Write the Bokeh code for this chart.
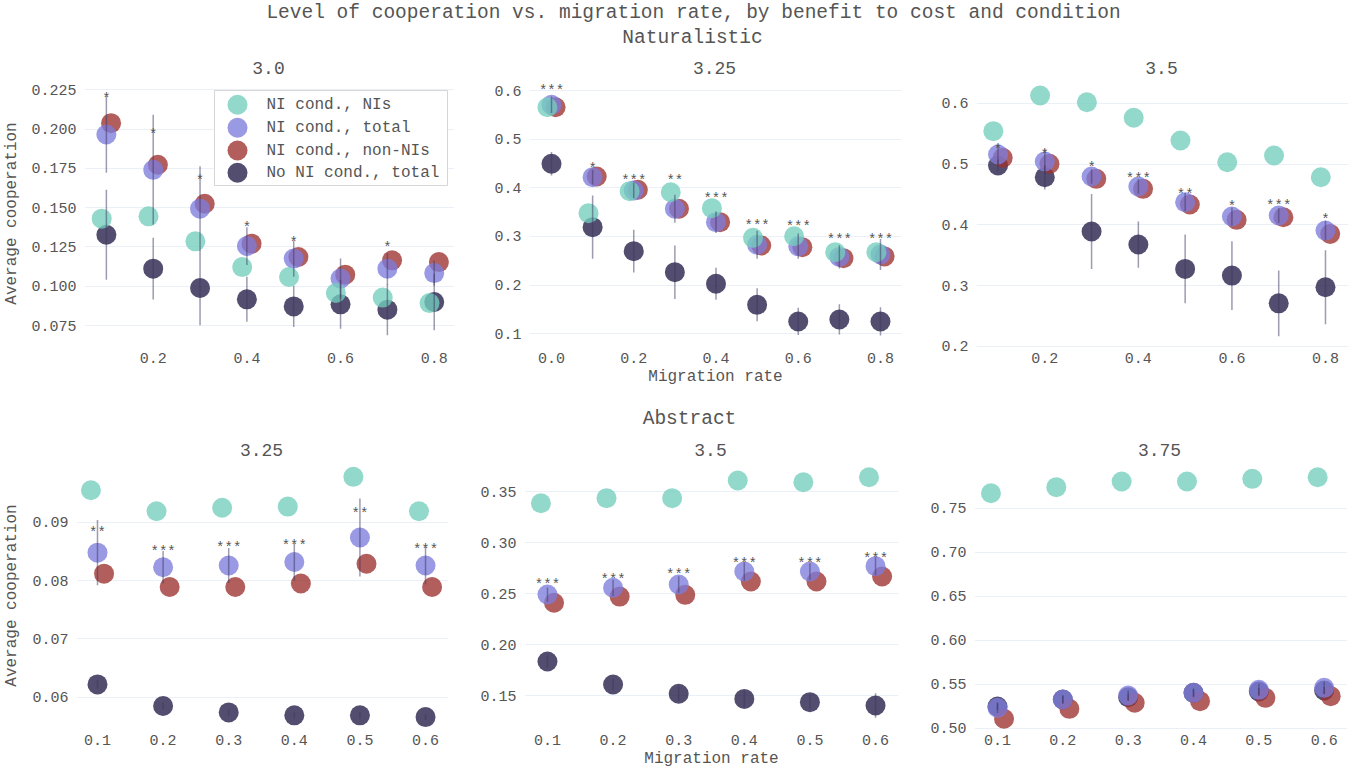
from bokeh.plotting import figure
from bokeh.layouts import column, row
from bokeh.models import Range1d, FixedTicker, PrintfTickFormatter, Label
from bokeh.embed import file_html
from bokeh.resources import INLINE
from bokeh.core.properties import value

# ---------------- data ----------------
SERIES_NAMES = ["NI cond., NIs", "NI cond., total", "NI cond., non-NIs", "No NI cond., total"]

main_title = "Level of cooperation vs. migration rate, by benefit to cost and condition"
conditions = ["Naturalistic", "Abstract"]
nat_bc = ["3.0", "3.25", "3.5"]
abs_bc = ["3.25", "3.5", "3.75"]
x_label = "Migration rate"
y_label = "Average cooperation"

# Naturalistic, b/c = 3.0
n30_x = [0.1, 0.2, 0.3, 0.4, 0.5, 0.6, 0.7, 0.8]
n30_nis = [0.143, 0.1445, 0.1286, 0.1122, 0.1059, 0.0957, 0.0928, 0.0893]
n30_tot = [0.1966, 0.1741, 0.1494, 0.1256, 0.1176, 0.1049, 0.1112, 0.1084]
n30_non = [0.2038, 0.1773, 0.1525, 0.1271, 0.1186, 0.1074, 0.1165, 0.1154]
n30_no = [0.1328, 0.1112, 0.0989, 0.0917, 0.0872, 0.0885, 0.0851, 0.0900]
n30_tot_err = [0.0244, 0.035, 0.0269, 0.012, 0.0115, 0.0127, 0.010, 0.008]
n30_no_err = [0.0286, 0.0196, 0.0237, 0.0143, 0.0131, 0.0155, 0.0163, 0.018]
n30_sig = ["*", "*", "*", "*", "*", "", "*", ""]
n30_sig_y = [0.2214, 0.1991, 0.1694, 0.1394, 0.1303, 0.0, 0.1271, 0.0]

# Naturalistic, b/c = 3.25
n325_x = [0.0, 0.1, 0.2, 0.3, 0.4, 0.5, 0.6, 0.7, 0.8]
n325_nis = [0.5657, 0.3479, 0.3931, 0.391, 0.3582, 0.2973, 0.3006, 0.2678, 0.2678]
n325_tot = [0.5706, 0.4219, 0.3945, 0.357, 0.3294, 0.2830, 0.280, 0.258, 0.263]
n325_non = [0.5657, 0.4233, 0.396, 0.357, 0.3294, 0.2815, 0.278, 0.2555, 0.259]
n325_no = [0.4494, 0.3192, 0.2699, 0.2267, 0.2028, 0.1596, 0.1254, 0.1295, 0.1254]
n325_tot_err = [0.017, 0.015, 0.016, 0.029, 0.022, 0.029, 0.026, 0.024, 0.032]
n325_no_err = [0.024, 0.065, 0.044, 0.055, 0.033, 0.034, 0.028, 0.031, 0.029]
n325_sig = ["***", "*", "***", "**", "***", "***", "***", "***", "***"]
n325_sig_y = [0.6068, 0.4473, 0.4219, 0.4219, 0.3843, 0.3308, 0.3281, 0.3006, 0.3006]

# Naturalistic, b/c = 3.5
n35_x = [0.1, 0.2, 0.3, 0.4, 0.5, 0.6, 0.7, 0.8]
n35_nis = [0.554, 0.6127, 0.6016, 0.576, 0.5386, 0.503, 0.514, 0.4783]
n35_tot = [0.5156, 0.5041, 0.4794, 0.463, 0.4372, 0.4137, 0.4153, 0.3906]
n35_non = [0.5102, 0.5003, 0.4756, 0.4592, 0.4334, 0.4082, 0.4125, 0.3851]
n35_no = [0.4975, 0.4783, 0.389, 0.3676, 0.3276, 0.3166, 0.271, 0.2974]
n35_tot_err = [0.017, 0.02, 0.012, 0.012, 0.015, 0.015, 0.012, 0.016]
n35_no_err = [0.01, 0.02, 0.0617, 0.038, 0.0564, 0.0564, 0.054, 0.061]
n35_sig = ["*", "*", "*", "***", "**", "*", "***", "*"]
n35_sig_y = [0.5304, 0.521, 0.5003, 0.4827, 0.4564, 0.4355, 0.4372, 0.4153]

# Abstract, b/c = 3.25
a325_x = [0.1, 0.2, 0.3, 0.4, 0.5, 0.6]
a325_nis = [0.0955, 0.0919, 0.0925, 0.0927, 0.0978, 0.0919]
a325_tot = [0.0848, 0.0823, 0.0826, 0.0832, 0.0874, 0.0826]
a325_non = [0.0812, 0.0789, 0.0789, 0.0795, 0.0829, 0.0789]
a325_no = [0.0622, 0.0585, 0.0574, 0.0569, 0.0569, 0.0566]
a325_tot_err = [0.0056, 0.0028, 0.003, 0.0032, 0.0067, 0.0032]
a325_no_err = [0.0007, 0.0006, 0.0006, 0.0005, 0.0006, 0.0005]
a325_sig = ["**", "***", "***", "***", "**", "***"]
a325_sig_y = [0.0889, 0.0856, 0.0862, 0.0867, 0.0921, 0.0859]

# Abstract, b/c = 3.5
a35_x = [0.1, 0.2, 0.3, 0.4, 0.5, 0.6]
a35_nis = [0.3385, 0.3435, 0.3435, 0.3608, 0.3591, 0.364]
a35_tot = [0.249, 0.2556, 0.2588, 0.2716, 0.2716, 0.2768]
a35_non = [0.2409, 0.247, 0.2487, 0.2618, 0.2618, 0.2667]
a35_no = [0.1833, 0.1608, 0.1517, 0.1467, 0.1435, 0.1402]
a35_tot_err = [0.007, 0.008, 0.008, 0.009, 0.008, 0.009]
a35_no_err = [0.006, 0.006, 0.007, 0.008, 0.007, 0.012]
a35_sig = ["***", "***", "***", "***", "***", "***"]
a35_sig_y = [0.2618, 0.2667, 0.2716, 0.2833, 0.2833, 0.2882]

# Abstract, b/c = 3.75
a375_x = [0.1, 0.2, 0.3, 0.4, 0.5, 0.6]
a375_nis = [0.767, 0.7739, 0.7803, 0.7803, 0.7834, 0.7852]
a375_tot = [0.5232, 0.5326, 0.5372, 0.5402, 0.5436, 0.5459]
a375_non = [0.5107, 0.522, 0.5289, 0.5307, 0.5345, 0.5364]
a375_no = [0.5247, 0.5326, 0.5353, 0.5402, 0.5417, 0.5428]
a375_tot_err = [0.006, 0.005, 0.006, 0.005, 0.007, 0.007]
a375_no_err = [0.004, 0.004, 0.004, 0.004, 0.004, 0.004]
a375_sig = ["", "", "", "", "", ""]
a375_sig_y = [0.0, 0.0, 0.0, 0.0, 0.0, 0.0]

# tick labels
n30_yticks = [0.075, 0.1, 0.125, 0.15, 0.175, 0.2, 0.225]
n325_yticks = [0.1, 0.2, 0.3, 0.4, 0.5, 0.6]
n35_yticks = [0.2, 0.3, 0.4, 0.5, 0.6]
a325_yticks = [0.06, 0.07, 0.08, 0.09]
a35_yticks = [0.15, 0.2, 0.25, 0.3, 0.35]
a375_yticks = [0.5, 0.55, 0.6, 0.65, 0.7, 0.75]
n30_xticks = [0.2, 0.4, 0.6, 0.8]
n325_xticks = [0.0, 0.2, 0.4, 0.6, 0.8]
n35_xticks = [0.2, 0.4, 0.6, 0.8]
abs_xticks = [0.1, 0.2, 0.3, 0.4, 0.5, 0.6]

# ---------------- style ----------------
FONT = "Liberation Mono"
TXT = "#555555"
GRID = "#EBF0F8"
COLORS = ["#73CEBE", "#7E7CDB", "#9C312E", "#221C46"]
ALPHA = 0.78
OFFSET = 0.01
ERR_COLOR = "#3c3760"
PAGE_W = 1357
FRAME_H = 270


def panel(xs, nis, tot, non, no, tot_err, no_err, sig, sig_y,
          xr, yr, xt, xfmt, yt, yfmt, fw, bl, br, bb,
          xlab=None, ylab=None, ylab_std=2, legend_box=None):
    p = figure(frame_width=fw, frame_height=FRAME_H,
               x_range=Range1d(*xr), y_range=Range1d(*yr),
               min_border_left=bl, min_border_right=br,
               min_border_top=0, min_border_bottom=bb,
               toolbar_location=None, output_backend="svg")
    p.outline_line_color = None
    p.background_fill_color = "white"
    p.border_fill_color = "white"

    xm = [x - OFFSET for x in xs]
    xp = [x + OFFSET for x in xs]
    # draw order: dark, red, lavender, teal
    p.scatter(xs, no, size=20, fill_color=COLORS[3], fill_alpha=ALPHA, line_color=None)
    p.scatter(xp, non, size=20, fill_color=COLORS[2], fill_alpha=ALPHA, line_color=None)
    p.scatter(xs, tot, size=20, fill_color=COLORS[1], fill_alpha=ALPHA, line_color=None)
    p.scatter(xm, nis, size=20, fill_color=COLORS[0], fill_alpha=ALPHA, line_color=None)

    # error bars
    p.segment(x0=xs, y0=[v - e for v, e in zip(tot, tot_err)],
              x1=xs, y1=[v + e for v, e in zip(tot, tot_err)],
              line_color=ERR_COLOR, line_alpha=0.5, line_width=1.5)
    p.segment(x0=xs, y0=[v - e for v, e in zip(no, no_err)],
              x1=xs, y1=[v + e for v, e in zip(no, no_err)],
              line_color=ERR_COLOR, line_alpha=0.5, line_width=1.5)

    # significance stars
    sx = [x for x, s in zip(xs, sig) if s]
    sy = [y for y, s in zip(sig_y, sig) if s]
    st = [s for s in sig if s]
    if st:
        p.text(x=sx, y=sy, text=st, text_align="center", text_baseline="middle",
               y_offset=4, text_font=value(FONT), text_font_size="14px",
               text_color=TXT)

    p.xaxis.ticker = FixedTicker(ticks=xt)
    p.xaxis.formatter = PrintfTickFormatter(format=xfmt)
    p.yaxis.ticker = FixedTicker(ticks=yt)
    p.yaxis.formatter = PrintfTickFormatter(format=yfmt)
    for ax in p.axis:
        ax.axis_line_color = None
        ax.major_tick_line_color = None
        ax.minor_tick_line_color = None
        ax.major_tick_out = 0
        ax.major_tick_in = 0
        ax.minor_tick_out = 0
        ax.minor_tick_in = 0
        ax.major_label_text_font = FONT
        ax.major_label_text_font_size = "15px"
        ax.major_label_text_color = TXT
        ax.axis_label_text_font = FONT
        ax.axis_label_text_font_size = "16px"
        ax.axis_label_text_color = TXT
        ax.axis_label_text_font_style = "normal"
    p.xaxis.major_label_standoff = 4
    p.yaxis.major_label_standoff = 8
    p.xaxis.axis_label_standoff = 2
    p.yaxis.axis_label_standoff = ylab_std
    if xlab:
        p.xaxis.axis_label = xlab
    if ylab:
        p.yaxis.axis_label = ylab
    p.xgrid.visible = False
    p.ygrid.grid_line_color = GRID
    p.ygrid.grid_line_width = 1

    if legend_box is not None:
        # legend drawn in frame pixel coordinates (y measured from frame top)
        p.extra_x_ranges = {"px": Range1d(0, fw)}
        p.extra_y_ranges = {"px": Range1d(FRAME_H, 0)}
        left, right, top, bottom, gx, tx, rows = legend_box
        p.quad(left=[left], right=[right], top=[top], bottom=[bottom],
               x_range_name="px", y_range_name="px",
               fill_color="white", fill_alpha=1.0,
               line_color="#d6d6d6", line_width=1)
        order = [0, 1, 2, 3]
        for i, ry in zip(order, rows):
            p.scatter([gx], [ry], size=20, fill_color=COLORS[i], fill_alpha=ALPHA,
                      line_color=None, x_range_name="px", y_range_name="px")
        p.text(x=[tx] * 4, y=rows, text=SERIES_NAMES, text_align="left",
               text_baseline="middle", text_font=value(FONT),
               text_font_size="16px", text_color=TXT,
               x_range_name="px", y_range_name="px")
    return p


def header(height, top, labels):
    h = figure(width=PAGE_W, height=height,
               x_range=Range1d(0, PAGE_W), y_range=Range1d(top + height, top),
               min_border=0, toolbar_location=None, output_backend="svg")
    h.axis.visible = False
    h.grid.visible = False
    h.outline_line_color = None
    h.border_fill_color = "white"
    for (x, y, t, size) in labels:
        h.add_layout(Label(x=x, y=y, text=t, text_align="center",
                           text_baseline="middle", text_font=FONT,
                           text_font_size=size, text_color=TXT))
    h.scatter([0], [top], size=0, alpha=0)
    return h


h1 = header(78, 0, [(693, 12, main_title, "19.5px"),
                    (692, 37, conditions[0], "19.5px"),
                    (268, 67, nat_bc[0], "18px"),
                    (714, 67, nat_bc[1], "18px"),
                    (1161, 67, nat_bc[2], "18px")])

p1 = panel(n30_x, n30_nis, n30_tot, n30_non, n30_no, n30_tot_err, n30_no_err,
           n30_sig, n30_sig_y, (0.0533, 0.8433), (0.0604, 0.2322),
           n30_xticks, "%.1f", n30_yticks, "%.3f", 370, 83, 10, 52,
           ylab=y_label, ylab_std=7,
           legend_box=(130, 363, 12, 107, 153, 182, [26.3, 49.3, 72.0, 94.3]))
p2 = panel(n325_x, n325_nis, n325_tot, n325_non, n325_no, n325_tot_err, n325_no_err,
           n325_sig, n325_sig_y, (-0.0535, 0.8511), (0.0698, 0.6247),
           n325_xticks, "%.1f", n325_yticks, "%.1f", 372, 65, 10, 52,
           xlab=x_label)
p3 = panel(n35_x, n35_nis, n35_tot, n35_non, n35_no, n35_tot_err, n35_no_err,
           n35_sig, n35_sig_y, (0.054, 0.8492), (0.1967, 0.6406),
           n35_xticks, "%.1f", n35_yticks, "%.1f", 372, 65, 10, 52)

h2 = header(60, 400, [(689, 418, conditions[1], "19.5px"),
                      (261, 449, abs_bc[0], "18px"),
                      (710, 449, abs_bc[1], "18px"),
                      (1159, 449, abs_bc[2], "18px")])

p4 = panel(a325_x, a325_nis, a325_tot, a325_non, a325_no, a325_tot_err, a325_no_err,
           a325_sig, a325_sig_y, (0.068, 0.635), (0.0543, 0.1006),
           abs_xticks, "%.1f", a325_yticks, "%.2f", 372, 75, 10, 44,
           ylab=y_label, ylab_std=8)
p5 = panel(a35_x, a35_nis, a35_tot, a35_non, a35_no, a35_tot_err, a35_no_err,
           a35_sig, a35_sig_y, (0.065, 0.635), (0.1157, 0.3804),
           abs_xticks, "%.1f", a35_yticks, "%.2f", 374, 66, 10, 44,
           xlab=x_label)
p6 = panel(a375_x, a375_nis, a375_tot, a375_non, a375_no, a375_tot_err, a375_no_err,
           a375_sig, a375_sig_y, (0.0648, 0.6357), (0.4974, 0.8042),
           abs_xticks, "%.1f", a375_yticks, "%.2f", 373, 66, 10, 44)

layout = column(h1, row(p1, p2, p3), h2, row(p4, p5, p6))

open("out.html", "w").write(file_html(layout, INLINE))
